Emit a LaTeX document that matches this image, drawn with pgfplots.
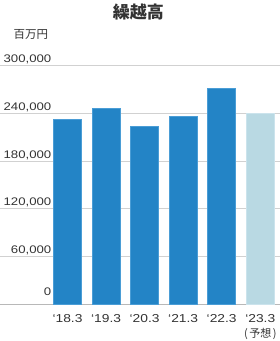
\documentclass[border=0pt]{standalone}
\usepackage{fontspec}
\usepackage{pgfplots}
\pgfplotsset{compat=1.18}
\setmainfont{Liberation Sans}
\newfontfamily\numfont[FakeStretch=1.2]{Liberation Sans}
\newfontfamily\cjk{Noto Sans CJK JP}
\definecolor{barblue}{HTML}{2384C6}
\definecolor{baredge}{HTML}{4A9DD6}
\definecolor{barlight}{HTML}{B9D9E3}
\definecolor{lightedge}{HTML}{CBE3EC}
\definecolor{txt}{HTML}{333333}
\begin{document}
\begin{tikzpicture}
\useasboundingbox (0,-36.7pt) rectangle (280pt,304.3pt);
\begin{axis}[
  at={(0pt,0pt)}, anchor=south west,
  scale only axis, width=280pt, height=238.8pt,
  xmin=0, xmax=280, ymin=0, ymax=300000,
  clip=false,
  axis line style={draw=none},
  tick style={draw=none},
  ymajorgrids, grid style={color=black!18, line width=0.6pt},
  scaled y ticks=false,
  ytick={60000,120000,180000,240000,300000},
  extra y ticks={0},
  extra y tick style={grid=major, major grid style={color=black!28, line width=0.7pt}, yticklabel style={yshift=6pt}},
  /pgf/number format/.cd, fixed, 1000 sep={,}, assume math mode=true,
  /pgfplots/.cd,
  yticklabel style={font=\fontsize{11}{13}\numfont, text=txt, anchor=base east, inner sep=0pt, xshift=51.5pt, yshift=3pt},
  xtick={67.5,106.1,144.6,183.2,221.7,260.3},
  xticklabels={‘18.3,‘19.3,‘20.3,‘21.3,‘22.3,{‘23.3\\[1pt]{\cjk\fontsize{11}{14}\selectfont(\hspace{1.5pt}予想\hspace{1.5pt})}}},
  xticklabel style={font=\fontsize{11.5}{14}\numfont, text=txt, anchor=north, inner sep=0pt, yshift=-10pt, align=center},
]
\addplot[ybar, bar shift=0pt, bar width=28pt, fill=barblue, draw=baredge, line width=0.7pt]
  coordinates {(67.5,232000) (106.1,246000) (144.6,223000) (183.2,236000) (221.7,271000)};
\addplot[ybar, bar shift=0pt, bar width=28pt, fill=barlight, draw=lightedge, line width=0.7pt]
  coordinates {(260.3,240000)};
\end{axis}
\node[font=\cjk\bfseries\fontsize{17}{19}\selectfont, text=txt] at (138.3pt,292.6pt) {繰越高};
\node[font=\cjk\fontsize{11.5}{13}\selectfont, text=txt] at (30.8pt,270.3pt) {百万円};
\end{tikzpicture}
\end{document}
